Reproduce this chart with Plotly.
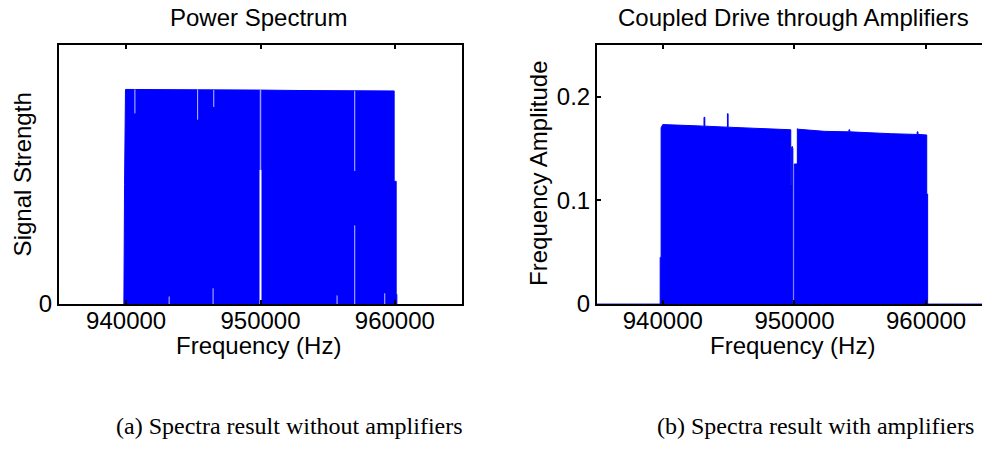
import plotly.graph_objects as go

W, H = 982, 456

# ---------------- data ----------------
x_tick_vals = [940000, 950000, 960000]
x_tick_text = ["940000", "950000", "960000"]

# Left panel: envelope of the power spectrum (arbitrary units)
left_freq = [939830, 939830, 939880, 939880, 939950, 942000, 945000, 948000,
             950000, 953000, 956000, 959950, 959950, 960100, 960100, 960150, 960150]
left_level = [0, 0.045, 0.045, 0.553, 0.993, 0.993, 0.992, 0.991,
              0.990, 0.988, 0.987, 0.986, 0.568, 0.568, 0.045, 0.045, 0]

# Left panel: thin drop-outs inside the filled band
left_gap_freq = [940650, 940650, None, 945320, 945320, None, 946520, 946520, None,
                 946470, 946470, None, 957015, 957015, None, 957015, 957015, None,
                 959250, 959250, None, 943200, 943200, None, 955700, 955700]
left_gap_level = [0.993, 0.882, None, 0.993, 0.853, None, 0.990, 0.912, None,
                  0.073, 0.0, None, 0.986, 0.616, None, 0.364, 0.0, None,
                  0.05, 0.0, None, 0.035, 0.0, None, 0.04, 0.0]
center_gap_freq = [950000, 950000]
center_gap_level = [0.0, 0.62]
center_gap_upper_freq = [950000, 950000]
center_gap_upper_level = [0.62, 0.99]

# Right panel: envelope of the amplified spectrum
right_freq = [935000, 939800, 939800, 939870, 939870, 940000, 942150, 943130, 943130,
              943190, 943190, 944680, 944910, 944910, 944960, 944960, 947210, 949720,
              949720, 949760, 949760, 949830, 949880, 949880, 949990, 949990, 950220,
              950220, 950300, 952270, 954140, 954140, 954200, 954200, 957360, 959330,
              959330, 959390, 959390, 960050, 960050, 960120, 960120, 964250]
right_level = [0, 0, 0.045, 0.045, 0.170, 0.173, 0.172, 0.1715, 0.180,
               0.180, 0.1715, 0.171, 0.1705, 0.1835, 0.1835, 0.1705, 0.169, 0.168,
               0.115, 0.115, 0.150, 0.152, 0.150, 0, 0, 0.135, 0.135,
               0.169, 0.1685, 0.1665, 0.166, 0.168, 0.168, 0.166, 0.1642, 0.1635,
               0.166, 0.166, 0.1635, 0.163, 0.106, 0.106, 0, 0]

y2_tick_vals = [0, 0.1, 0.2]
y2_tick_text = ["0", "0.1", "0.2"]

BLUE = "#0000ff"
SANS = "Liberation Sans, Arial, sans-serif"
SERIF = "Liberation Serif, Times New Roman, serif"

fig = go.Figure()
fig.add_trace(go.Scatter(x=left_freq, y=left_level, mode="lines", fill="tozeroy",
                         line=dict(color=BLUE, width=1), fillcolor=BLUE,
                         xaxis="x", yaxis="y", hoverinfo="skip"))
fig.add_trace(go.Scatter(x=left_gap_freq, y=left_gap_level, mode="lines",
                         line=dict(color="rgba(255,255,255,0.75)", width=1),
                         xaxis="x", yaxis="y", hoverinfo="skip", connectgaps=False))
fig.add_trace(go.Scatter(x=center_gap_freq, y=center_gap_level, mode="lines",
                         line=dict(color="white", width=2),
                         xaxis="x", yaxis="y", hoverinfo="skip"))
fig.add_trace(go.Scatter(x=center_gap_upper_freq, y=center_gap_upper_level, mode="lines",
                         line=dict(color="rgba(255,255,255,0.6)", width=1.5),
                         xaxis="x", yaxis="y", hoverinfo="skip"))
fig.add_trace(go.Scatter(x=right_freq, y=right_level, mode="lines", fill="tozeroy",
                         line=dict(color=BLUE, width=1), fillcolor=BLUE,
                         xaxis="x2", yaxis="y2", hoverinfo="skip"))

def px_x(p):
    return p / W

def px_y(p):
    return 1 - p / H

ydom = [px_y(313), px_y(46)]
common = dict(showline=True, linecolor="black", linewidth=2, ticks="inside", ticklen=4,
              tickwidth=1.5, tickcolor="black", showgrid=False, zeroline=False,
              tickfont=dict(family=SANS, size=24, color="black"), fixedrange=True)

fig.update_layout(
    width=W, height=H,
    margin=dict(l=0, r=0, t=0, b=0),
    paper_bgcolor="white", plot_bgcolor="white",
    showlegend=False,
    xaxis=dict(domain=[px_x(59), px_x(462)], range=[935000, 965000],
               tickvals=x_tick_vals, ticktext=x_tick_text, mirror="ticks",
               anchor="y", ticklabelstandoff=-6, **common),
    yaxis=dict(domain=ydom, range=[0, 1.2], tickvals=[0], ticktext=["0"],
               mirror="ticks", anchor="x", ticklabelstandoff=0, **common),
    xaxis2=dict(domain=[px_x(597), 1.0], range=[935000, 964250],
                tickvals=x_tick_vals, ticktext=x_tick_text, mirror="ticks",
                anchor="y2", ticklabelstandoff=-6, **common),
    yaxis2=dict(domain=ydom, range=[0, 0.25], tickvals=y2_tick_vals,
                ticktext=y2_tick_text, mirror=False, anchor="x2",
                ticklabelstandoff=0, **common),
)

def ann(text, x, y, size=24, family=SANS, angle=0):
    fig.add_annotation(text=text, x=px_x(x), y=px_y(y), xref="paper", yref="paper",
                       showarrow=False, xanchor="center", yanchor="middle",
                       textangle=angle, font=dict(family=family, size=size, color="black"))

ann("Power Spectrum", 258.5, 18)
ann("Coupled Drive through Amplifiers", 793, 18)
ann("Frequency (Hz)", 258.3, 356)
ann("Frequency (Hz)", 792.7, 356)
ann("Signal Strength", 22, 179.5, angle=-90)
ann("Frequency Amplitude", 539, 179, angle=-90)
ann("(a) Spectra result without amplifiers", 289.5, 438, family=SERIF)
ann("(b) Spectra result with amplifiers", 815, 438, family=SERIF)

fig.write_html("out.html")
